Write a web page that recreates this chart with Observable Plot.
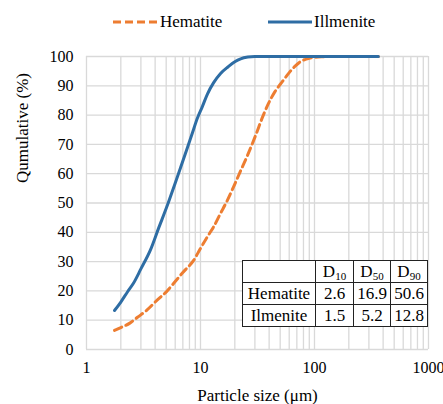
<!DOCTYPE html>
<html>
<head>
<meta charset="utf-8">
<script src="https://cdn.jsdelivr.net/npm/d3@7"></script>
<script src="https://cdn.jsdelivr.net/npm/@observablehq/plot@0.6"></script>
<style>
  body { margin: 0; background: #fff; }
  #wrap { position: relative; width: 443px; height: 404px; font-family: "Liberation Serif", "Times New Roman", serif; }
  #wrap svg, #wrap svg text, #wrap svg g { font-family: "Liberation Serif", "Times New Roman", serif !important; }
  #legend { position: absolute; left: 0; top: 0; width: 443px; height: 44px; }
  #legend .item { position: absolute; top: 11px; font-size: 17px; line-height: 22px; color: #000; }
  #tbl { position: absolute; left: 242px; top: 260px; border-collapse: collapse; background: #fff; font-size: 17px; }
  #tbl td { border: 1px solid #222; padding: 0; text-align: center; height: 21px; line-height: 21px; }
  sub { font-size: 11px; vertical-align: -3px; line-height: 0; }
</style>
</head>
<body>
<div id="wrap"></div>
<script>
// ---- data ----
const hematiteSize = [1.76, 2.0, 2.4, 2.8, 3.4, 4.0, 5.1, 6.0, 7.0, 8.7, 10, 11.5, 13, 15, 16.9, 19.5, 22.5, 26, 30.4, 35, 39.5, 45, 52.4, 60, 68, 75, 83, 95, 117, 150, 363];
const hematiteCum  = [6.5, 7.5, 9.0, 11.0, 13.5, 16.2, 20.0, 23.2, 26.3, 30.4, 34.5, 38.5, 41.8, 46.5, 50.3, 55.5, 61, 66.5, 73, 79.3, 84, 88, 91.5, 94.5, 96.8, 98.2, 99, 99.6, 99.9, 100, 100];
const ilmeniteSize = [1.76, 2.0, 2.3, 2.58, 3.0, 3.64, 4.3, 5.13, 5.9, 6.68, 7.7, 8.5, 9.4, 10.4, 11.5, 13, 15, 17.5, 20, 22.5, 26, 30, 363];
const ilmeniteCum  = [13.3, 16.2, 19.8, 22.6, 27.5, 34, 41.5, 49.3, 56, 62, 69, 74, 79, 83, 87.2, 91, 94.2, 96.5, 98.2, 99.2, 99.8, 100, 100];
const xTicks = [1, 10, 100, 1000];
const xMinor = [2, 3, 4, 5, 6, 7, 8, 9, 20, 30, 40, 50, 60, 70, 80, 90, 200, 300, 400, 500, 600, 700, 800, 900];
const yTicks = [0, 10, 20, 30, 40, 50, 60, 70, 80, 90, 100];
const seriesNames = ["Hematite", "Illmenite"];
const tableHeader = ["D10", "D50", "D90"];
const tableRows = [
  ["Hematite", "2.6", "16.9", "50.6"],
  ["Ilmenite", "1.5", "5.2", "12.8"]
];
const colors = { Hematite: "#ED7D31", Illmenite: "#2E6DA4" };

const hem = hematiteSize.map((s, i) => ({ size: s, cum: hematiteCum[i] }));
const ilm = ilmeniteSize.map((s, i) => ({ size: s, cum: ilmeniteCum[i] }));

const FONT = "Liberation Serif";
const grid = { stroke: "#d9d9d9", strokeOpacity: 1, strokeWidth: 1.3 };

const chart = Plot.plot({
  width: 443,
  height: 404,
  marginLeft: 86,
  marginRight: 15,
  marginTop: 56,
  marginBottom: 55,
  style: { fontFamily: FONT, fontSize: "16px", color: "#000", background: "#fff" },
  x: { type: "log", domain: [1, 1000] },
  y: { domain: [0, 100] },
  marks: [
    Plot.gridX(xMinor, grid),
    Plot.gridX(xTicks, grid),
    Plot.gridY(yTicks, grid),
    Plot.axisX(xTicks, { tickSize: 0, tickPadding: 12, tickFormat: d => String(d), label: null, fontSize: 16, fontFamily: FONT }),
    Plot.axisY(yTicks, { tickSize: 0, tickPadding: 13, tickFormat: d => String(d), label: null, fontSize: 16, fontFamily: FONT }),
    Plot.line(hem, { x: "size", y: "cum", stroke: colors.Hematite, strokeWidth: 3, strokeDasharray: "8,4.5", curve: "monotone-x" }),
    Plot.line(ilm, { x: "size", y: "cum", stroke: colors.Illmenite, strokeWidth: 3, curve: "monotone-x" }),
    Plot.text(["Particle size (μm)"], { frameAnchor: "bottom", dy: 46, lineAnchor: "middle", fontSize: 17, fontFamily: FONT }),
    Plot.text(["Qumulative (%)"], { frameAnchor: "left", rotate: -90, dx: -64, dy: -20, lineAnchor: "middle", fontSize: 17, fontFamily: FONT })
  ]
});

const wrap = document.getElementById("wrap");
wrap.appendChild(chart);

// legend
const legend = document.createElement("div");
legend.id = "legend";
const legendPos = [{ line: 113, text: 160 }, { line: 268, text: 314 }];
seriesNames.forEach((name, i) => {
  const p = legendPos[i];
  const svgNS = "http://www.w3.org/2000/svg";
  const s = document.createElementNS(svgNS, "svg");
  s.setAttribute("width", 46); s.setAttribute("height", 10);
  s.style.position = "absolute"; s.style.left = p.line + "px"; s.style.top = "17px";
  const l = document.createElementNS(svgNS, "line");
  l.setAttribute("x1", 0); l.setAttribute("x2", 44); l.setAttribute("y1", 5); l.setAttribute("y2", 5);
  l.setAttribute("stroke", colors[name]); l.setAttribute("stroke-width", 3);
  if (name === "Hematite") l.setAttribute("stroke-dasharray", "8,4");
  s.appendChild(l);
  legend.appendChild(s);
  const t = document.createElement("div");
  t.className = "item"; t.style.left = p.text + "px"; t.textContent = name;
  legend.appendChild(t);
});
wrap.appendChild(legend);

// table
const tbl = document.createElement("table");
tbl.id = "tbl";
const colW = [72, 37, 36, 36];
const hr = document.createElement("tr");
const c0 = document.createElement("td"); c0.style.width = colW[0] + "px"; hr.appendChild(c0);
tableHeader.forEach((h, j) => {
  const td = document.createElement("td");
  td.style.width = colW[j + 1] + "px";
  td.innerHTML = h[0] + "<sub>" + h.slice(1) + "</sub>";
  hr.appendChild(td);
});
tbl.appendChild(hr);
tableRows.forEach(r => {
  const tr = document.createElement("tr");
  r.forEach(v => { const td = document.createElement("td"); td.textContent = v; tr.appendChild(td); });
  tbl.appendChild(tr);
});
wrap.appendChild(tbl);
</script>
</body>
</html>
